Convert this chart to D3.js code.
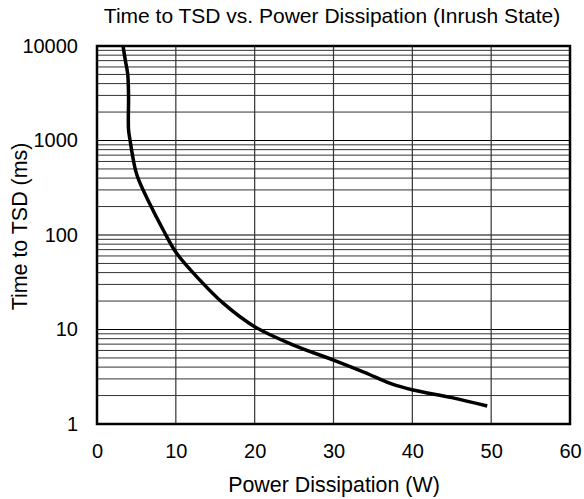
<!DOCTYPE html>
<html><head><meta charset="utf-8">
<script src="https://cdn.jsdelivr.net/npm/d3@7"></script>
<style>body{margin:0;background:#fff}text{font-family:"Liberation Sans",Arial,sans-serif;fill:#000}</style>
</head><body><svg id="c" width="584" height="499"></svg>
<script>
const powerW = [3.3, 3.6, 3.9, 4.0, 4.0, 4.2, 4.5, 4.9, 5.3, 6.5, 8.4, 10.1, 13.1, 16, 20, 25, 30, 34, 37.2, 40.1, 45, 49.5];
const timeMs = [10000, 7000, 5000, 3000, 1300, 1000, 700, 480, 380, 230, 113, 64, 33, 19, 10.7, 6.8, 4.75, 3.5, 2.69, 2.29, 1.9, 1.55];
const xTicks = [0, 10, 20, 30, 40, 50, 60];
const yTicks = [1, 10, 100, 1000, 10000];
const title = "Time to TSD vs. Power Dissipation (Inrush State)";
const xLabel = "Power Dissipation (W)";
const yLabel = "Time to TSD (ms)";

const svg = d3.select("#c");
const L = 97, R = 570, T = 46, B = 424;
const x = d3.scaleLinear().domain([0, 60]).range([L, R]);
const y = d3.scaleLog().domain([1, 10000]).range([B, T]);

const minor = [];
for (let d = 1; d < 10000; d *= 10) for (let k = 2; k <= 9; k++) minor.push(d * k);
svg.append("g").selectAll("line").data(minor).join("line")
  .attr("x1", L).attr("x2", R).attr("y1", d => y(d)).attr("y2", d => y(d))
  .attr("stroke", "#333").attr("stroke-width", 1);
svg.append("g").selectAll("line").data(yTicks).join("line")
  .attr("x1", L).attr("x2", R).attr("y1", d => y(d)).attr("y2", d => y(d))
  .attr("stroke", "#000").attr("stroke-width", 1.2);
svg.append("g").selectAll("line").data(xTicks).join("line")
  .attr("y1", T).attr("y2", B).attr("x1", d => x(d)).attr("x2", d => x(d))
  .attr("stroke", "#333").attr("stroke-width", 1.2);

const pts = powerW.map((p, i) => [p, timeMs[i]]);
svg.append("path").datum(pts)
  .attr("fill", "none").attr("stroke", "#000").attr("stroke-width", 3.5)
  .attr("stroke-linejoin", "round").attr("stroke-linecap", "butt")
  .attr("d", d3.line().x(d => x(d[0])).y(d => y(d[1])).curve(d3.curveCatmullRom.alpha(0.5)));

svg.append("rect").attr("x", L).attr("y", T).attr("width", R - L).attr("height", B - T)
  .attr("fill", "none").attr("stroke", "#000").attr("stroke-width", 2.5);

const xa = svg.append("g").attr("transform", `translate(0,${B})`)
  .call(d3.axisBottom(x).tickValues(xTicks).tickSize(0).tickPadding(20).tickFormat(d3.format("d")));
xa.select(".domain").remove();
xa.selectAll("text").attr("font-size", 20).attr("font-family", "Liberation Sans, Arial, sans-serif").attr("fill", "#000");

const ya = svg.append("g").attr("transform", `translate(${L},0)`)
  .call(d3.axisLeft(y).tickValues(yTicks).tickSize(0).tickPadding(19).tickFormat(d3.format("d")));
ya.select(".domain").remove();
ya.selectAll("text").attr("font-size", 20).attr("font-family", "Liberation Sans, Arial, sans-serif").attr("fill", "#000");

svg.append("text").attr("x", 332).attr("y", 23).attr("text-anchor", "middle").attr("font-size", 21).text(title);
svg.append("text").attr("x", 334).attr("y", 491.5).attr("text-anchor", "middle").attr("font-size", 21.4).text(xLabel);
svg.append("text").attr("transform", "translate(26.5,226.5) rotate(-90)").attr("text-anchor", "middle").attr("font-size", 21.4).text(yLabel);
</script></body></html>
